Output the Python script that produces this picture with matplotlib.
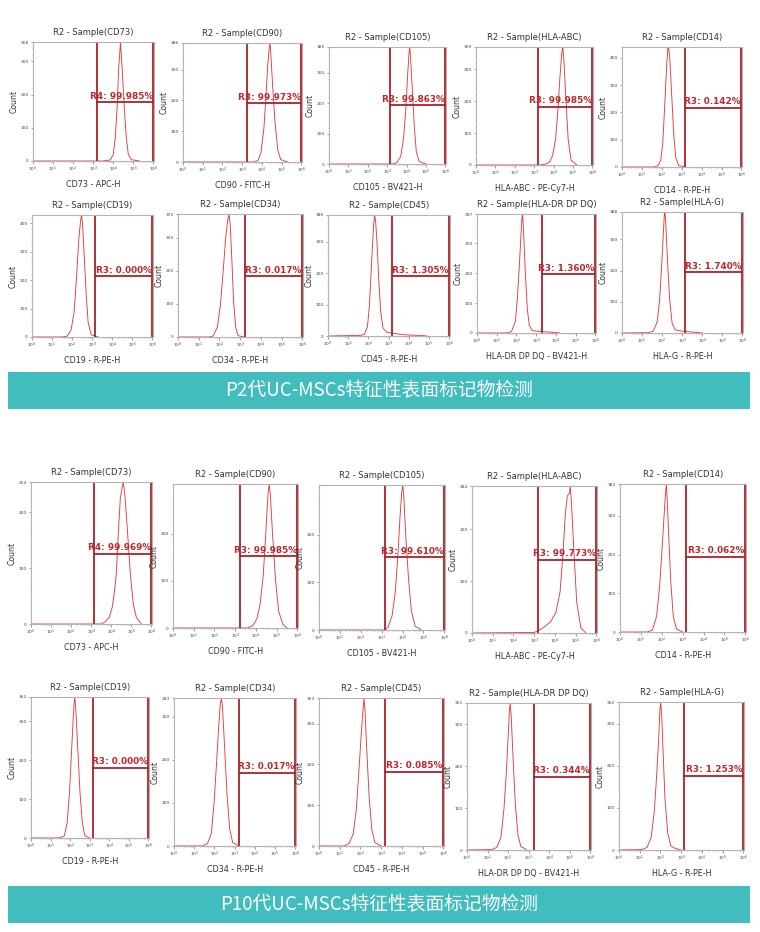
import numpy as np
import matplotlib
matplotlib.use("Agg")
import matplotlib.pyplot as plt
from matplotlib.patches import Rectangle
from matplotlib.ticker import FixedLocator, LogLocator, NullFormatter, MultipleLocator

plt.rcParams['font.family'] = ['DejaVu Sans']

W, H = 760, 932

markers = ["CD73", "CD90", "CD105", "HLA-ABC", "CD14",
           "CD19", "CD34", "CD45", "HLA-DR DP DQ", "HLA-G"]
channels = ["CD73 - APC-H", "CD90 - FITC-H", "CD105 - BV421-H", "HLA-ABC - PE-Cy7-H", "CD14 - R-PE-H",
            "CD19 - R-PE-H", "CD34 - R-PE-H", "CD45 - R-PE-H", "HLA-DR DP DQ - BV421-H", "HLA-G - R-PE-H"]
gate_names = ["R4", "R3", "R3", "R3", "R3", "R3", "R3", "R3", "R3", "R3"]
banner_titles = ["P2代UC-MSCs特征性表面标记物检测", "P10代UC-MSCs特征性表面标记物检测"]

# ---- P2 passage ----
p2_pct = ["99.985%", "99.973%", "99.863%", "99.985%", "0.142%",
          "0.000%", "0.017%", "1.305%", "1.360%", "1.740%"]
p2_ymax = [358, 386, 385, 369, 440, 429, 372, 386, 397, 388]
p2_show_top = [True, True, True, True, False, False, True, True, True, True]
p2_gate_lo = [3.20, 3.23, 3.16, 3.18, 3.15, 3.16, 3.22, 3.17, 3.27, 3.12]
p2_gate_hi = [5.97, 5.98, 5.97, 5.97, 5.97, 5.97, 5.97, 5.97, 5.97, 5.97]
p2_gate_level = [177, 191, 194, 182, 217, 213, 183, 191, 197, 195]

# histogram points: log10 intensity, count
p2_cd73_x = [0, 3.5, 3.85, 4.0, 4.1, 4.2, 4.27, 4.33, 4.36, 4.4, 4.47, 4.55, 4.65, 4.75, 4.9, 5.3]
p2_cd73_y = [0, 0, 3, 20, 70, 170, 280, 330, 358, 320, 250, 160, 70, 20, 4, 0]
p2_cd90_x = [0, 3.6, 3.8, 3.95, 4.1, 4.2, 4.3, 4.37, 4.41, 4.45, 4.55, 4.65, 4.8, 4.95, 5.3]
p2_cd90_y = [0, 0, 5, 30, 110, 210, 320, 370, 386, 350, 240, 140, 40, 8, 0]
p2_cd105_x = [0, 3.3, 3.5, 3.7, 3.85, 3.95, 4.05, 4.12, 4.16, 4.2, 4.3, 4.4, 4.5, 4.65, 5.0]
p2_cd105_y = [0, 0, 5, 25, 90, 170, 290, 360, 385, 355, 240, 120, 40, 8, 0]
p2_hlaabc_x = [0, 3.3, 3.6, 3.8, 3.95, 4.1, 4.22, 4.32, 4.42, 4.47, 4.52, 4.62, 4.75, 4.9, 5.2]
p2_hlaabc_y = [0, 0, 3, 10, 30, 80, 170, 270, 350, 369, 340, 220, 80, 15, 0]
p2_cd14_x = [0, 1.6, 1.8, 1.95, 2.05, 2.15, 2.25, 2.3, 2.34, 2.4, 2.5, 2.6, 2.7, 2.85, 3.2]
p2_cd14_y = [0, 0, 4, 25, 90, 230, 380, 435, 440, 400, 260, 120, 35, 5, 0]
p2_cd19_x = [0, 1.5, 1.75, 1.95, 2.1, 2.22, 2.33, 2.42, 2.47, 2.52, 2.6, 2.7, 2.8, 2.95, 3.3]
p2_cd19_y = [0, 0, 3, 25, 90, 210, 340, 410, 429, 400, 290, 150, 50, 8, 0]
p2_cd34_x = [0, 1.5, 1.7, 1.9, 2.05, 2.18, 2.3, 2.4, 2.46, 2.52, 2.6, 2.68, 2.78, 2.9, 3.2]
p2_cd34_y = [0, 0, 3, 30, 100, 200, 300, 355, 372, 340, 230, 110, 30, 4, 0]
p2_cd45_x = [0, 1.6, 1.8, 1.95, 2.05, 2.15, 2.25, 2.3, 2.35, 2.42, 2.5, 2.6, 2.72, 2.9, 3.1, 3.5, 4.0, 4.5, 4.9]
p2_cd45_y = [0, 2, 5, 30, 100, 230, 350, 386, 370, 300, 190, 80, 25, 12, 10, 6, 3, 2, 0]
p2_hladr_x = [0, 1.5, 1.75, 1.95, 2.05, 2.15, 2.23, 2.28, 2.31, 2.36, 2.45, 2.55, 2.65, 2.8, 3.2, 3.7, 4.2]
p2_hladr_y = [0, 0, 5, 40, 120, 230, 330, 385, 397, 340, 200, 80, 25, 8, 5, 3, 0]
p2_hlag_x = [0, 1.3, 1.55, 1.75, 1.88, 1.98, 2.06, 2.11, 2.14, 2.19, 2.27, 2.37, 2.5, 2.65, 3.0, 3.5, 4.0]
p2_hlag_y = [0, 1, 5, 35, 110, 220, 320, 380, 388, 340, 230, 110, 30, 10, 6, 3, 0]

# ---- P10 passage ----
p10_pct = ["99.969%", "99.985%", "99.610%", "99.773%", "0.062%",
           "0.000%", "0.017%", "0.085%", "0.344%", "1.253%"]
p10_ymax = [254, 305, 305, 284, 382, 362, 343, 363, 351, 352]
p10_show_top = [True, False, False, True, True, True, True, True, True, True]
p10_gate_lo = [3.12, 3.25, 3.18, 3.20, 3.17, 3.17, 3.20, 3.19, 3.27, 3.13]
p10_gate_hi = [5.97, 5.97, 5.97, 5.97, 5.97, 5.97, 5.97, 5.97, 5.97, 5.97]
p10_gate_level = [125, 152, 153, 141, 193, 181, 170, 182, 175, 176]

p10_cd73_x = [0, 3.5, 3.7, 3.9, 4.05, 4.15, 4.25, 4.35, 4.45, 4.55, 4.6, 4.68, 4.8, 4.95, 5.1, 5.25, 5.5]
p10_cd73_y = [0, 0, 4, 12, 30, 55, 90, 160, 225, 245, 254, 230, 170, 90, 35, 12, 0]
p10_cd90_x = [0, 3.6, 3.85, 4.05, 4.2, 4.35, 4.45, 4.55, 4.6, 4.64, 4.7, 4.8, 4.95, 5.1, 5.3, 5.5]
p10_cd90_y = [0, 0, 5, 20, 50, 110, 180, 260, 290, 305, 280, 200, 100, 35, 8, 0]
p10_cd105_x = [0, 3.1, 3.3, 3.5, 3.65, 3.78, 3.88, 3.96, 4.01, 4.06, 4.15, 4.28, 4.42, 4.6, 4.9]
p10_cd105_y = [0, 0, 5, 30, 80, 160, 240, 290, 305, 280, 200, 110, 40, 8, 0]
p10_hlaabc_x = [0, 3.0, 3.25, 3.5, 3.8, 4.05, 4.25, 4.4, 4.5, 4.6, 4.7, 4.74, 4.8, 4.9, 5.05, 5.25, 5.5]
p10_hlaabc_y = [0, 1, 6, 12, 22, 40, 80, 160, 230, 265, 270, 284, 250, 170, 60, 10, 0]
p10_cd14_x = [0, 1.3, 1.55, 1.75, 1.9, 2.02, 2.12, 2.18, 2.22, 2.26, 2.33, 2.43, 2.55, 2.7, 3.0]
p10_cd14_y = [0, 0, 5, 40, 120, 220, 310, 360, 382, 340, 250, 130, 40, 8, 0]
p10_cd19_x = [0, 1.4, 1.7, 1.85, 1.97, 2.07, 2.15, 2.2, 2.24, 2.29, 2.38, 2.5, 2.62, 2.75, 3.0]
p10_cd19_y = [0, 0, 5, 40, 120, 220, 300, 345, 362, 330, 240, 120, 40, 6, 0]
p10_cd34_x = [0, 1.4, 1.65, 1.85, 1.98, 2.1, 2.2, 2.28, 2.34, 2.4, 2.5, 2.62, 2.75, 2.9, 3.2]
p10_cd34_y = [0, 0, 5, 30, 100, 190, 270, 325, 343, 320, 230, 120, 40, 8, 0]
p10_cd45_x = [0, 1.2, 1.45, 1.65, 1.8, 1.92, 2.02, 2.1, 2.17, 2.22, 2.3, 2.42, 2.55, 2.7, 3.0]
p10_cd45_y = [0, 0, 6, 30, 90, 180, 260, 320, 363, 330, 240, 120, 40, 8, 0]
p10_hladr_x = [0, 1.2, 1.45, 1.65, 1.8, 1.92, 2.0, 2.06, 2.1, 2.15, 2.23, 2.35, 2.48, 2.62, 2.9]
p10_hladr_y = [0, 1, 6, 30, 100, 190, 270, 330, 351, 320, 230, 110, 35, 8, 1]
p10_hlag_x = [0, 1.1, 1.35, 1.55, 1.7, 1.82, 1.92, 1.97, 2.01, 2.06, 2.13, 2.22, 2.35, 2.5, 2.7, 3.0]
p10_hlag_y = [0, 1, 6, 30, 90, 180, 270, 330, 352, 320, 230, 120, 40, 10, 4, 0]

p2_curves = [(p2_cd73_x, p2_cd73_y), (p2_cd90_x, p2_cd90_y), (p2_cd105_x, p2_cd105_y),
             (p2_hlaabc_x, p2_hlaabc_y), (p2_cd14_x, p2_cd14_y), (p2_cd19_x, p2_cd19_y),
             (p2_cd34_x, p2_cd34_y), (p2_cd45_x, p2_cd45_y), (p2_hladr_x, p2_hladr_y),
             (p2_hlag_x, p2_hlag_y)]
p10_curves = [(p10_cd73_x, p10_cd73_y), (p10_cd90_x, p10_cd90_y), (p10_cd105_x, p10_cd105_y),
              (p10_hlaabc_x, p10_hlaabc_y), (p10_cd14_x, p10_cd14_y), (p10_cd19_x, p10_cd19_y),
              (p10_cd34_x, p10_cd34_y), (p10_cd45_x, p10_cd45_y), (p10_hladr_x, p10_hladr_y),
              (p10_hlag_x, p10_hlag_y)]

# axes boxes in pixels: left, top, right, bottom
p2_boxes = [(33, 42, 154, 161), (183, 43, 302, 162), (329, 47, 446, 164), (476, 47, 593, 165),
            (622, 47, 742, 167), (32, 215, 153, 337), (178, 214, 303, 337), (328, 215, 450, 336),
            (477, 214, 596, 333), (622, 212, 743, 333)]
p10_boxes = [(31, 482, 152, 624), (173, 484, 298, 628), (319, 485, 445, 630), (472, 486, 597, 633),
             (620, 484, 746, 632), (31, 697, 149, 838), (174, 698, 296, 846), (319, 698, 444, 846),
             (467, 703, 591, 850), (619, 702, 744, 850)]
banner_boxes = [(8, 372, 750, 409), (8, 886, 750, 923)]

line_c = "#e53a3f"
gate_c = "#ad2129"
text_c = "#c0262d"
frame_c = "#b4b4b4"

fig = plt.figure(figsize=(W / 100, H / 100), dpi=100)
fig.patch.set_facecolor("white")


def panel(box, marker, channel, gname, pct, ymax, show_top, glo, ghi, glevel, curve):
    l, t, r, b = box
    ax = fig.add_axes([l / W, 1 - b / H, (r - l) / W, (b - t) / H])
    ax.set_xscale("log")
    lx, cnt = curve
    ax.plot(10 ** np.array(lx), cnt, color=line_c, lw=0.65)
    ax.set_xlim(1, 10 ** 6.03)
    ax.set_ylim(0, ymax)
    ax.plot([10 ** glo, 10 ** glo], [0, ymax], color=gate_c, lw=1.3)
    ax.plot([10 ** ghi, 10 ** ghi], [0, ymax], color=gate_c, lw=1.3)
    ax.plot([10 ** glo, 10 ** ghi], [glevel, glevel], color=gate_c, lw=1.3)
    ax.text(10 ** ghi, glevel + ymax * 0.012, f"{gname}: {pct}", ha="right", va="bottom",
            color=text_c, fontsize=6.4, fontweight="bold")

    yt = list(range(0, ymax - 15, 100))
    if show_top:
        yt.append(ymax)
    ax.yaxis.set_major_locator(FixedLocator(yt))
    ax.set_yticklabels([str(v) for v in yt])
    ax.yaxis.set_minor_locator(MultipleLocator(20))
    xt = [10 ** k for k in range(7)]
    ax.xaxis.set_major_locator(FixedLocator(xt))
    ax.set_xticklabels([f"$10^{{{k}}}$" for k in range(7)])
    ax.xaxis.set_minor_locator(LogLocator(base=10, subs=np.arange(2, 10)))
    ax.xaxis.set_minor_formatter(NullFormatter())
    ax.tick_params(which="major", labelsize=3.2, length=1.8, width=0.5, colors="#777777",
                   labelcolor="#444444", pad=1.2)
    ax.tick_params(which="minor", length=0.9, width=0.4, colors="#999999")
    for s in ax.spines.values():
        s.set_color(frame_c)
        s.set_linewidth(0.8)

    ax.set_title(f"R2 - Sample({marker})", fontsize=6, color="#333333", pad=5)
    ax.set_xlabel(channel, fontsize=5.8, color="#333333", labelpad=4)
    ax.set_ylabel("Count", fontsize=5.6, color="#333333", labelpad=1.5)


for i in range(10):
    panel(p2_boxes[i], markers[i], channels[i], gate_names[i], p2_pct[i], p2_ymax[i],
          p2_show_top[i], p2_gate_lo[i], p2_gate_hi[i], p2_gate_level[i], p2_curves[i])
    panel(p10_boxes[i], markers[i], channels[i], gate_names[i], p10_pct[i], p10_ymax[i],
          p10_show_top[i], p10_gate_lo[i], p10_gate_hi[i], p10_gate_level[i], p10_curves[i])

for (l, t, r, b), title in zip(banner_boxes, banner_titles):
    fig.patches.append(Rectangle((l / W, 1 - b / H), (r - l) / W, (b - t) / H,
                                 transform=fig.transFigure, facecolor="#41bdbe",
                                 edgecolor="none", zorder=0))
    fig.text((l + r) / 2 / W, 1 - (t + b) / 2 / H, title, ha="center", va="center",
             color="white", fontsize=13.5, fontweight="medium",
             family=["Noto Sans CJK SC", "DejaVu Sans"])

fig.savefig("out.png", dpi=100, facecolor="white")
